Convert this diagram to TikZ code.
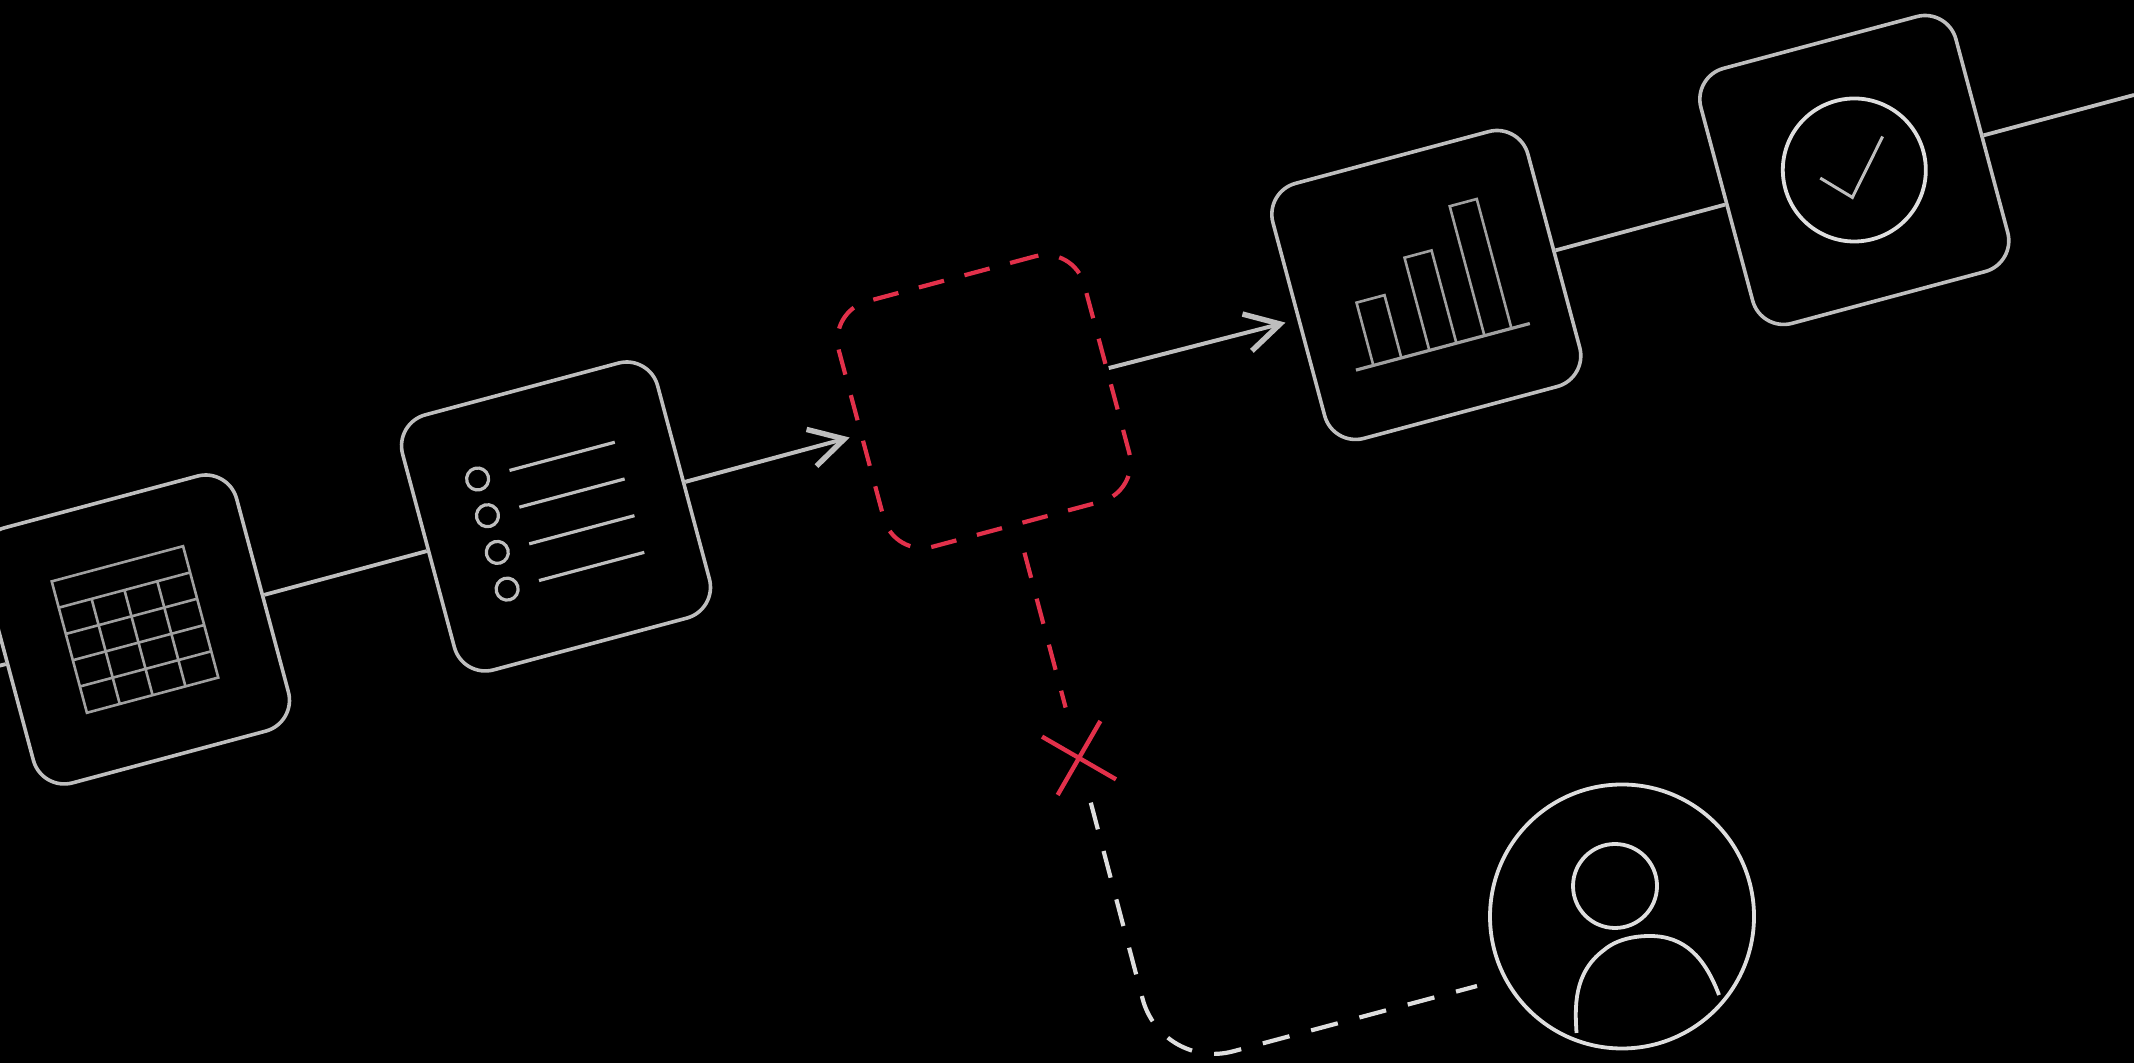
\documentclass[tikz,border=0pt]{standalone}
\usepackage{tikz}
\usetikzlibrary{arrows.meta, shapes.misc}

\definecolor{flowgray}{HTML}{BEBEBE}
\definecolor{icongray}{HTML}{A0A0A0}
\definecolor{userwhite}{HTML}{DEDEDE}
\definecolor{failred}{HTML}{E2304A}

\tikzset{
    iconbox/.style={draw=flowgray, line width=1.8pt, rotate=15, minimum size=132pt, inner sep=0pt, rounded corners=16pt},
    gapbox/.style={draw=failred, line width=2.1pt, rotate=15, minimum size=127pt, inner sep=0pt, rounded corners=20pt, dash pattern=on 13pt off 10.6pt},
    crossmark/.style={draw=failred, line width=2.2pt, cross out, rotate=15, minimum size=28pt, inner sep=0pt},
    flowline/.style={draw=flowgray, line width=1.9pt},
    flowarrow/.style={flowline, -{Straight Barb[length=17pt, width=19pt, line width=2.7pt]}, shorten >=6pt, line width=2pt},
    iconline/.style={draw=icongray, line width=1.3pt},
    listline/.style={draw=flowgray, line width=1.6pt},
    userline/.style={draw=userwhite, line width=1.9pt},
}

\begin{document}
\begin{tikzpicture}[x=0.5pt, y=0.5pt]

\useasboundingbox (0,0) rectangle (2134,1063);
\fill[black] (0,0) rectangle (2134,1063);

% Boites
\node[iconbox] (tablebox) at (135,433.5) {};
\node[iconbox] (listbox) at (556,546.5) {};
\node[gapbox] (gapbox) at (984,661.5) {};
\node[iconbox] (chartbox) at (1426.3,778) {};
\node[iconbox] (checkbox) at (1854.3,893) {};
\node[crossmark] (cross) at (1079,305) {};
\node[draw=userwhite, line width=1.9pt, circle, minimum size=132pt, inner sep=0pt] (user) at (1622,146.5) {};

\coordinate (leftend) at (-30,390);
\coordinate (rightend) at (2134,968);
\coordinate (bend) at (1161.5,-7.5);
\coordinate (userin) at (1477,77);

% Liaisons
\draw[flowline] (leftend) -- (tablebox.west);
\draw[flowline] (tablebox.east) -- (listbox.west);
\draw[flowarrow, shorten >=5pt] (listbox.east) -- (gapbox.west);
\draw[flowarrow] (gapbox.east) -- (chartbox.west);
\draw[flowline] (chartbox.east) -- (checkbox.west);
\draw[flowline] (checkbox.east) -- (rightend);

% Liaison interrompue
\draw[failred, line width=2.1pt, dash pattern=on 13pt off 10.8pt, shorten <=13.7pt, shorten >=11pt] (gapbox.south) -- (cross);
\draw[userwhite, line width=2.1pt, dash pattern=on 13.8pt off 11.2pt, rounded corners=37pt, shorten <=8pt] (cross) -- (bend) -- (userin);

% Tableau
\begin{scope}[shift={(tablebox.center)}, rotate=15]
    \draw[iconline] (-68,-68) rectangle (68,68);
    \foreach \y in {40.8,13.6,-13.6,-40.8}
        \draw[iconline] (-68,\y) -- (68,\y);
    \foreach \x in {-34,0,34}
        \draw[iconline] (\x,40.8) -- (\x,-68);
\end{scope}

% Liste
\begin{scope}[shift={(listbox.center)}, rotate=15]
    \foreach \y in {56.5,18.5,-19.5,-57.5} {
        \draw[listline] (-66,\y) circle (11);
        \draw[listline] (-33,\y) -- (76,\y);
    }
\end{scope}

% Histogramme
\begin{scope}[shift={(chartbox.center)}, rotate=15]
    \draw[iconline, line width=1.6pt] (-90,-64) -- (90,-64);
    \draw[iconline] (-72,-64) -- (-72,1) -- (-43,1) -- (-43,-64);
    \draw[iconline] (-14,-64) -- (-14,32) -- (14,32) -- (14,-64);
    \draw[iconline] (43,-64) -- (43,70) -- (71,70) -- (71,-64);
\end{scope}

% Validation
\begin{scope}[shift={(checkbox.center)}, rotate=15]
    \draw[userline] (0,0) circle (71.5);
    \draw[flowline, line width=1.5pt] (-35,1) -- (-9,-26) -- (36,25);
\end{scope}

% Utilisateur
\draw[userline] (1615,177) circle (42);
\draw[userline] (1576.5,30) .. controls (1575,55) and (1573,90) .. (1604,113)
    .. controls (1617,124) and (1635,127) .. (1650,127)
    .. controls (1685,127) and (1705,105) .. (1719,68);

\end{tikzpicture}
\end{document}
